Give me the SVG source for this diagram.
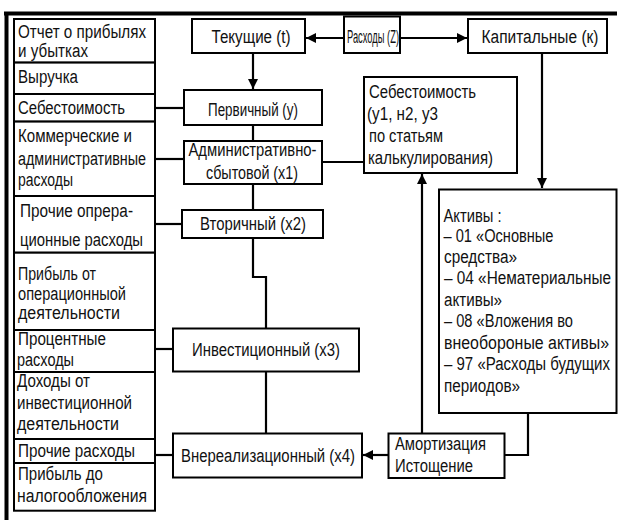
<svg xmlns="http://www.w3.org/2000/svg" width="620" height="520" viewBox="0 0 620 520">
<defs>
<marker id="ah" viewBox="0 0 10 10" refX="10" refY="5" markerWidth="10" markerHeight="10" markerUnits="userSpaceOnUse" orient="auto">
<path d="M0,0 L10,5 L0,10 z" fill="#000"/>
</marker>
<style>
rect{fill:#fff;stroke:#000;stroke-width:2}
text{font-family:"Liberation Sans",Arial,sans-serif;font-size:18px;fill:#111}
.c{text-anchor:middle}
.ln{stroke:#000;stroke-width:2.2;fill:none}
.fr{stroke:#000;stroke-width:4;fill:none}
</style>
</defs>
<rect x="0" y="0" width="620" height="520" style="stroke:none;fill:#fff"/>
<g id="frame">
<line class="fr" x1="4" y1="13.5" x2="617" y2="13.5"/>
<line class="fr" x1="6.5" y1="12" x2="6.5" y2="520"/>
</g>
<g id="connectors">
<line class="ln" x1="344" y1="38" x2="306" y2="38" marker-end="url(#ah)"/>
<line class="ln" x1="400" y1="38" x2="467" y2="38" marker-end="url(#ah)"/>
<line class="ln" x1="253" y1="53" x2="253" y2="89" marker-end="url(#ah)"/>
<line class="ln" x1="155" y1="108" x2="184" y2="108"/>
<line class="ln" x1="253" y1="125" x2="253" y2="141"/>
<line class="ln" x1="155" y1="159" x2="184" y2="159"/>
<line class="ln" x1="322" y1="162" x2="364" y2="162"/>
<line class="ln" x1="253" y1="184" x2="253" y2="210"/>
<line class="ln" x1="155" y1="224" x2="182" y2="224"/>
<polyline class="ln" points="253,238 253,277 266,277 266,328"/>
<line class="ln" x1="155" y1="349" x2="173" y2="349"/>
<line class="ln" x1="266" y1="372" x2="266" y2="433"/>
<line class="ln" x1="155" y1="455" x2="173" y2="455"/>
<line class="ln" x1="388" y1="455" x2="363" y2="455" marker-end="url(#ah)"/>
<line class="ln" x1="422" y1="433" x2="422" y2="174" marker-end="url(#ah)"/>
<line class="ln" x1="542" y1="53" x2="542" y2="188" marker-end="url(#ah)"/>
<polyline class="ln" points="528,413 528,455 504,455"/>
</g>
<g id="pnl">
<rect x="14" y="19" width="141" height="43.6"/>
<text x="18" y="38" textLength="128" lengthAdjust="spacingAndGlyphs">Отчет о прибылях</text>
<text x="18" y="57" textLength="70" lengthAdjust="spacingAndGlyphs">и убытках</text>
<rect x="14" y="62.6" width="141" height="31.4"/>
<text x="18" y="83" textLength="60" lengthAdjust="spacingAndGlyphs">Выручка</text>
<rect x="14" y="94" width="141" height="27.6"/>
<text x="18" y="113.5" textLength="107" lengthAdjust="spacingAndGlyphs">Себестоимость</text>
<rect x="14" y="121.6" width="141" height="74.4"/>
<text x="18" y="141.5" textLength="114" lengthAdjust="spacingAndGlyphs">Коммерческие и</text>
<text x="18" y="164.5" textLength="128" lengthAdjust="spacingAndGlyphs">административные</text>
<text x="18" y="186" textLength="55" lengthAdjust="spacingAndGlyphs">расходы</text>
<rect x="14" y="196" width="141" height="56.7"/>
<text x="20" y="216.5" textLength="113" lengthAdjust="spacingAndGlyphs">Прочие опрера-</text>
<text x="20" y="246" textLength="123" lengthAdjust="spacingAndGlyphs">ционные расходы</text>
<rect x="14" y="252.7" width="141" height="77.3"/>
<text x="18" y="280" textLength="78" lengthAdjust="spacingAndGlyphs">Прибыль от</text>
<text x="18" y="300" textLength="108" lengthAdjust="spacingAndGlyphs">операционныой</text>
<text x="18" y="319" textLength="102" lengthAdjust="spacingAndGlyphs">деятельности</text>
<rect x="14" y="330" width="141" height="42"/>
<text x="18" y="345" textLength="88" lengthAdjust="spacingAndGlyphs">Процентные</text>
<text x="17" y="365.5" textLength="57" lengthAdjust="spacingAndGlyphs">расходы</text>
<rect x="14" y="372" width="141" height="67"/>
<text x="17" y="387" textLength="73" lengthAdjust="spacingAndGlyphs">Доходы от</text>
<text x="17" y="408.5" textLength="115" lengthAdjust="spacingAndGlyphs">инвестиционной</text>
<text x="17" y="430" textLength="102" lengthAdjust="spacingAndGlyphs">деятельности</text>
<rect x="14" y="439" width="141" height="24"/>
<text x="18" y="457" textLength="117" lengthAdjust="spacingAndGlyphs">Прочие расходы</text>
<rect x="14" y="463" width="141" height="47.7"/>
<text x="18" y="480" textLength="85" lengthAdjust="spacingAndGlyphs">Прибыль до</text>
<text x="17" y="502" textLength="130" lengthAdjust="spacingAndGlyphs">налогообложения</text>
</g>
<g id="tekushchie">
<rect x="192" y="19" width="113" height="34"/>
<text class="c" x="251" y="43" textLength="79" lengthAdjust="spacingAndGlyphs">Текущие (t)</text>
</g>
<g id="raskhody">
<rect x="344" y="16.5" width="56" height="36.5"/>
<text class="c" x="373" y="43" textLength="52" lengthAdjust="spacingAndGlyphs">Расходы (Z)</text>
</g>
<g id="kapitalnye">
<rect x="468" y="19" width="139" height="34"/>
<text class="c" x="540" y="43" textLength="117" lengthAdjust="spacingAndGlyphs">Капитальные (к)</text>
</g>
<g id="pervichny">
<rect x="184" y="90" width="138" height="35"/>
<text class="c" x="253" y="115.5" textLength="90" lengthAdjust="spacingAndGlyphs">Первичный (у)</text>
</g>
<g id="admin">
<rect x="184" y="141" width="138" height="43"/>
<text class="c" x="252.5" y="156" textLength="128" lengthAdjust="spacingAndGlyphs">Административно-</text>
<text class="c" x="252" y="179" textLength="92" lengthAdjust="spacingAndGlyphs">сбытовой (х1)</text>
</g>
<g id="sebestoimost">
<rect x="364" y="77" width="153" height="96"/>
<text x="369" y="98" textLength="107" lengthAdjust="spacingAndGlyphs">Себестоимость</text>
<text x="367" y="119.5" textLength="71" lengthAdjust="spacingAndGlyphs">(у1, н2, у3</text>
<text x="369" y="141.5" textLength="74" lengthAdjust="spacingAndGlyphs">по статьям</text>
<text x="368" y="164" textLength="125" lengthAdjust="spacingAndGlyphs">калькулирования)</text>
</g>
<g id="vtorichny">
<rect x="182" y="210" width="141" height="28"/>
<text class="c" x="253" y="230" textLength="106" lengthAdjust="spacingAndGlyphs">Вторичный (х2)</text>
</g>
<g id="aktivy">
<rect x="439" y="189.5" width="177.5" height="223.5"/>
<text x="443.5" y="221.5" textLength="58" lengthAdjust="spacingAndGlyphs">Активы :</text>
<text x="443.5" y="242" textLength="110" lengthAdjust="spacingAndGlyphs">– 01 «Основные</text>
<text x="444" y="262.5" textLength="73" lengthAdjust="spacingAndGlyphs">средства»</text>
<text x="444" y="284" textLength="167" lengthAdjust="spacingAndGlyphs">– 04 «Нематериальные</text>
<text x="444" y="305.5" textLength="58" lengthAdjust="spacingAndGlyphs">активы»</text>
<text x="444" y="327" textLength="129" lengthAdjust="spacingAndGlyphs">– 08 «Вложения во</text>
<text x="444" y="348.5" textLength="165" lengthAdjust="spacingAndGlyphs">внеобороные активы»</text>
<text x="444" y="370" textLength="166" lengthAdjust="spacingAndGlyphs">– 97 «Расходы будущих</text>
<text x="444" y="391.5" textLength="76" lengthAdjust="spacingAndGlyphs">периодов»</text>
</g>
<g id="investitsionny">
<rect x="173" y="328.5" width="186" height="43"/>
<text class="c" x="266" y="355.5" textLength="148" lengthAdjust="spacingAndGlyphs">Инвестиционный (х3)</text>
</g>
<g id="vnerealizatsionny">
<rect x="173" y="433.5" width="189" height="44"/>
<text class="c" x="268" y="462" textLength="174" lengthAdjust="spacingAndGlyphs">Внереализационный (х4)</text>
</g>
<g id="amortizatsiya">
<rect x="388.5" y="433.5" width="116" height="44.5"/>
<text x="395" y="449.5" textLength="91" lengthAdjust="spacingAndGlyphs">Амортизация</text>
<text x="395" y="472" textLength="78" lengthAdjust="spacingAndGlyphs">Истощение</text>
</g>
</svg>
